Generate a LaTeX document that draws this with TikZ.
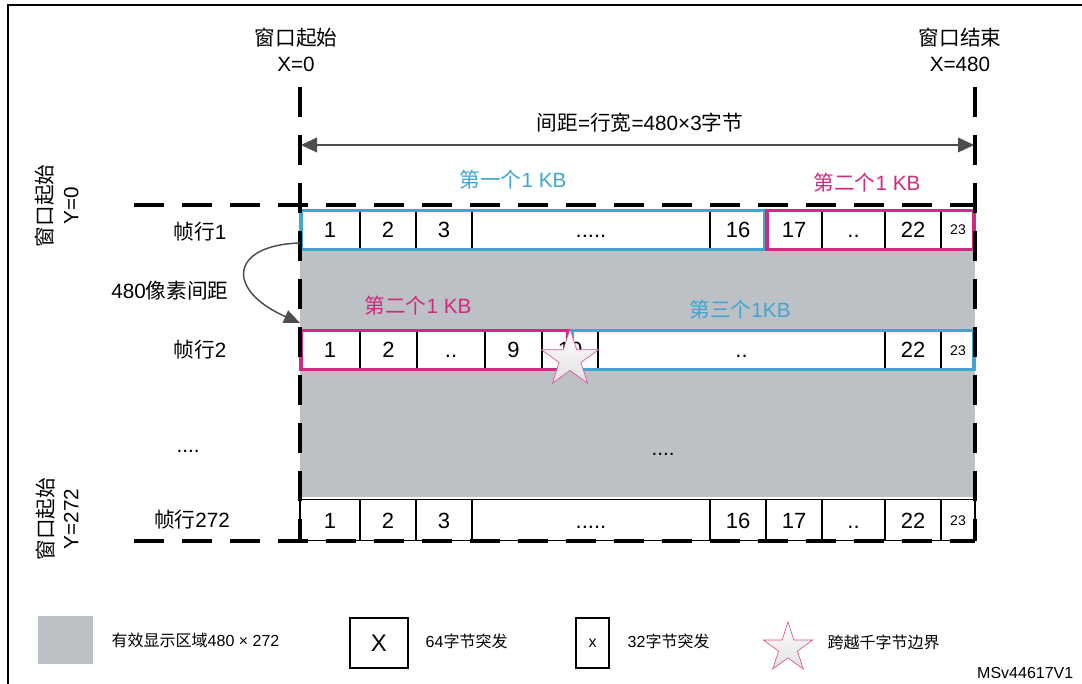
\documentclass[tikz,border=0pt]{standalone}
\usepackage{fontspec}
\setmainfont{Liberation Sans}
\newfontfamily\cjk{Noto Sans CJK SC}
\usepackage{tikz}
\usetikzlibrary{arrows.meta,fit}
\usetikzlibrary{shapes.geometric}
\definecolor{kbblue}{RGB}{64,166,208}
\definecolor{kbmag}{RGB}{206,43,128}
\definecolor{areagray}{RGB}{189,193,197}
\definecolor{arrgray}{RGB}{77,77,77}
\newcommand{\zh}[1]{{\cjk #1}}
\newcommand{\lblnode}{\node[lbl]}
\newcommand{\legnode}{\node[legtxt]}
\newcommand{\cellnode}[6][]{\node[cell,minimum width={(#4-#3)*0.75pt},#1] (#2) at ({(#3+#4)/2},#5) {#6};}
\tikzset{
  winline/.style={line width=2.5pt,dash pattern=on 22.5pt off 13.5pt},
  cell/.style={draw,line width=1.2pt,fill=white,inner sep=0pt,minimum height=30.75pt,
    font=\fontsize{16.5}{18}\selectfont,text height=12pt,text depth=0pt},
  smallcell/.style={font=\fontsize{10.5}{12}\selectfont,text height=7.5pt},
  kbbox/.style={draw=#1,line width=2.8pt,inner sep=-1.3pt},
  lbl/.style={font=\fontsize{15.5}{19}\selectfont,align=center},
  legtxt/.style={font=\fontsize{12}{14}\selectfont,anchor=west},
  crossstar/.style={star,star points=5,star point ratio=2.618,draw=kbmag!80,line width=0.5pt,
    top color=white,bottom color=black!12,inner sep=0pt},
  dimarrow/.style={arrgray,line width=1.1pt},
}
\begin{document}
\begin{tikzpicture}[x=0.75pt,y=-0.75pt]
  \useasboundingbox (0,0) rectangle (1082,684);
  % frame
  \coordinate (fbl) at (8,690);
  \coordinate (ftl) at (8,5);
  \coordinate (ftr) at (1085,5);
  \draw[line width=1.5pt] (fbl) -- (ftl) -- (ftr);

  % active area
  \node[fill=areagray,inner sep=0pt,minimum width=675*0.75pt,minimum height=287*0.75pt] (area) at (637.5,353.5) {};

  % frame line 1
  \cellnode{a1}{300}{360}{230}{1}
  \cellnode{a2}{360}{416}{230}{2}
  \cellnode{a3}{416}{472}{230}{3}
  \cellnode{a4}{472}{710}{230}{.....}
  \cellnode{a16}{710}{766}{230}{16}
  \cellnode{a17}{766}{822}{230}{17}
  \cellnode{a18}{822}{885}{230}{..}
  \cellnode{a22}{885}{941}{230}{22}
  \cellnode[smallcell]{a23}{941}{975}{230}{23}
  \node[kbbox=kbblue,fit=(a1)(a16)] (kb1) {};
  \node[kbbox=kbmag,fit=(a17)(a23)] (kb2) {};

  % frame line 2
  \cellnode{b1}{300}{360}{350}{1}
  \cellnode{b2}{360}{417}{350}{2}
  \cellnode{b3}{417}{485}{350}{..}
  \cellnode{b9}{485}{542}{350}{9}
  \cellnode{b10}{542}{598}{350}{10}
  \cellnode{b11}{598}{885}{350}{..}
  \cellnode{b22}{885}{941}{350}{22}
  \cellnode[smallcell]{b23}{941}{975}{350}{23}
  \node[kbbox=kbmag,fit=(b1)(b10.center)] (kb2b) {};
  \node[kbbox=kbblue,fit=(b10.center)(b23)] (kb3) {};

  % frame line 272
  \cellnode{c1}{300}{360}{520}{1}
  \cellnode{c2}{360}{416}{520}{2}
  \cellnode{c3}{416}{472}{520}{3}
  \cellnode{c4}{472}{710}{520}{.....}
  \cellnode{c16}{710}{766}{520}{16}
  \cellnode{c17}{766}{822}{520}{17}
  \cellnode{c18}{822}{885}{520}{..}
  \cellnode{c22}{885}{941}{520}{22}
  \cellnode[smallcell]{c23}{941}{975}{520}{23}

  % window borders
  \coordinate (x0t) at (300,87);
  \coordinate (x0b) at (300,541);
  \coordinate (x1t) at (975,87);
  \coordinate (x1b) at (975,541);
  \coordinate (y0l) at (134,205);
  \coordinate (y0r) at (975,205);
  \coordinate (y1l) at (134,541);
  \coordinate (y1r) at (975,541);
  \draw[winline] (x0t) -- (x0b);
  \draw[winline] (x1t) -- (x1b);
  \draw[winline] (y0l) -- (y0r);
  \draw[winline] (y1l) -- (y1r);

  \node[crossstar,minimum size=60*0.75pt] (cross) at (570,359) {};

  % labels
  \lblnode (x0lbl) at (296,50) {\zh{窗口起始}\\X=0};
  \lblnode (x1lbl) at (960,50) {\zh{窗口结束}\\X=480};
  \lblnode[rotate=90] (y0lbl) at (57,206) {\zh{窗口起始}\\Y=0};
  \lblnode[rotate=90] (y1lbl) at (57,519) {\zh{窗口起始}\\Y=272};
  \lblnode (pitch) at (640,123) {\zh{间距}=\zh{行宽}=480×3\zh{字节}};
  \coordinate (pl) at (301,145);
  \coordinate (pr) at (974,145);
  \draw[dimarrow,{Triangle[length=12pt,width=11pt]}-{Triangle[length=12pt,width=11pt]}] (pl) -- (pr);

  \lblnode[kbblue] (kb1lbl) at (513,180) {\zh{第一个}1 KB};
  \lblnode[kbmag] (kb2lbl) at (867,183) {\zh{第二个}1 KB};
  \lblnode[kbmag] (kb2blbl) at (418,306) {\zh{第二个}1 KB};
  \lblnode[kbblue] (kb3lbl) at (740,310) {\zh{第三个}1KB};

  \lblnode (row1) at (200,232) {\zh{帧行}1};
  \lblnode (row2) at (200,350) {\zh{帧行}2};
  \lblnode (rowdots) at (188,451) {....};
  \lblnode (areadots) at (663,454) {....};
  \lblnode (row272) at (192,520) {\zh{帧行}272};

  \coordinate (lpst) at (300,243);
  \coordinate (lpen) at (300,323);
  \draw[dimarrow,-{Triangle[length=12pt,width=10pt]}] (lpst) .. controls (230,245) and (225,290) .. (lpen);
  \lblnode (pxpitch) at (170,291) {480\zh{像素间距}};

  % legend
  \node[fill=areagray,inner sep=0pt,minimum width=55*0.75pt,minimum height=48*0.75pt] (legarea) at (65.5,640) {};
  \legnode (legareatxt) at (107,640) {\zh{有效显示区域}480 × 272};
  \node[draw,line width=1.2pt,minimum width=58*0.75pt,minimum height=50*0.75pt,inner sep=0pt,font=\fontsize{18}{20}\selectfont] (leg64) at (379,643) {X};
  \legnode (leg64txt) at (421,641) {64\zh{字节突发}};
  \node[draw,line width=1.2pt,minimum width=33*0.75pt,minimum height=50*0.75pt,inner sep=0pt,font=\fontsize{12}{14}\selectfont] (leg32) at (592.5,643) {x};
  \legnode (leg32txt) at (623,641) {32\zh{字节突发}};
  \node[crossstar,minimum size=52*0.75pt] (legstar) at (788,648) {};
  \legnode (legstartxt) at (823,642) {\zh{跨越千字节边界}};
  \node[font=\fontsize{12}{14}\selectfont,anchor=east] (docid) at (1078,673) {MSv44617V1};
\end{tikzpicture}
\end{document}
